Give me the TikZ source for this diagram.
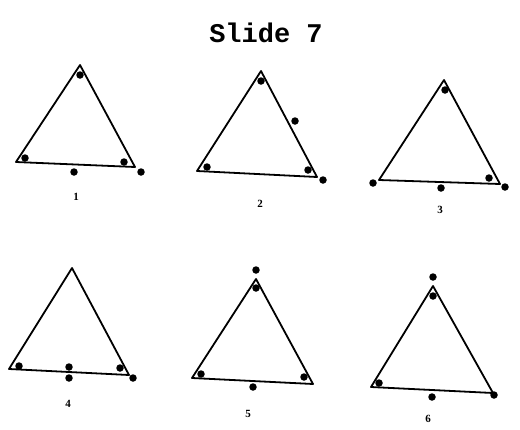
\documentclass[tikz,border=0pt]{standalone}
\usepackage{fontspec}
\newfontfamily\titlefont{Liberation Mono}
\newfontfamily\labfont{Liberation Serif}
\begin{document}
\begin{tikzpicture}[x=1pt,y=-1pt,
  tri/.style={line width=1.8pt,line join=round},
  dot/.style={circle,fill=black,inner sep=0pt,minimum size=7.5pt},
  lab/.style={font=\labfont\bfseries\fontsize{11}{11}\selectfont},
  title/.style={font=\titlefont\bfseries\fontsize{27}{27}\selectfont}]
\useasboundingbox (0,0) rectangle (520,429);
\node[title] (t) at (266,33) {Slide 7};
% Triangle 1
\coordinate (a1) at (80,65); \coordinate (b1) at (16,162); \coordinate (c1) at (135,167);
\draw[tri] (a1) -- (b1) -- (c1) -- cycle;
\node[dot] (d11) at (80,75) {}; \node[dot] (d12) at (25,158) {};
\node[dot] (d13) at (124,162) {}; \node[dot] (d14) at (74,172) {};
\node[dot] (d15) at (141,172) {};
\node[lab] (l1) at (76,197) {1};
% Triangle 2
\coordinate (a2) at (261,71); \coordinate (b2) at (197,171); \coordinate (c2) at (317,177);
\draw[tri] (a2) -- (b2) -- (c2) -- cycle;
\node[dot] (d21) at (261,81) {}; \node[dot] (d22) at (295,121) {};
\node[dot] (d23) at (207,167) {}; \node[dot] (d24) at (308,170) {};
\node[dot] (d25) at (323,180) {};
\node[lab] (l2) at (260,204) {2};
% Triangle 3
\coordinate (a3) at (444,80); \coordinate (b3) at (379,180); \coordinate (c3) at (500,184);
\draw[tri] (a3) -- (b3) -- (c3) -- cycle;
\node[dot] (d31) at (445,90) {}; \node[dot] (d32) at (373,183) {};
\node[dot] (d33) at (489,178) {}; \node[dot] (d34) at (505,187) {};
\node[dot] (d35) at (441,188) {};
\node[lab] (l3) at (440,210) {3};
% Triangle 4
\coordinate (a4) at (72,268); \coordinate (b4) at (9,369); \coordinate (c4) at (129,375);
\draw[tri] (a4) -- (b4) -- (c4) -- cycle;
\node[dot] (d41) at (19,366) {}; \node[dot] (d42) at (69,367) {};
\node[dot] (d43) at (69,378) {}; \node[dot] (d44) at (120,368) {};
\node[dot] (d45) at (133,378) {};
\node[lab] (l4) at (68,404) {4};
% Triangle 5
\coordinate (a5) at (256,279); \coordinate (b5) at (192,378); \coordinate (c5) at (313,384);
\draw[tri] (a5) -- (b5) -- (c5) -- cycle;
\node[dot] (d51) at (256,270) {}; \node[dot] (d52) at (256,288) {};
\node[dot] (d53) at (201,374) {}; \node[dot] (d54) at (304,377) {};
\node[dot] (d55) at (253,387) {};
\node[lab] (l5) at (248,414) {5};
% Triangle 6
\coordinate (a6) at (433,286); \coordinate (b6) at (371,387); \coordinate (c6) at (493,393);
\draw[tri] (a6) -- (b6) -- (c6) -- cycle;
\node[dot] (d61) at (433,277) {}; \node[dot] (d62) at (433,296) {};
\node[dot] (d63) at (379,383) {}; \node[dot] (d64) at (494,395) {};
\node[dot] (d65) at (432,397) {};
\node[lab] (l6) at (428,419) {6};
\end{tikzpicture}
\end{document}
